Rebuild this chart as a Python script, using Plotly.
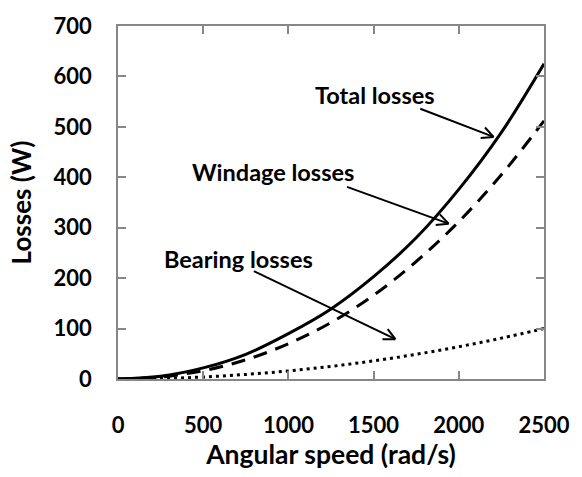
import numpy as np
import plotly.graph_objects as go

# ---- data ----
speed = [0, 250, 500, 750, 1000, 1250, 1500, 1750, 2000, 2250, 2500]
total_losses = [0, 5.4, 22, 49, 90, 139, 203, 280, 376, 489, 625]
windage_losses = [0, 4.0, 16.5, 38, 70, 112, 166, 233, 312, 405, 512]
bearing_losses = [0, 1, 4, 9, 16, 25, 36, 49, 64, 81, 100]
x_ticks = [0, 500, 1000, 1500, 2000, 2500]
y_ticks = [0, 100, 200, 300, 400, 500, 600, 700]

# label text, label centre, arrow tail, arrow head (data units)
labels = ["Total losses", "Windage losses", "Bearing losses"]
label_pos = [(1507, 563), (912, 410), (709, 238)]
arrow_tail = [(1774, 536), (1344, 381), (797, 214)]
arrow_head = [(2204, 480), (1940, 308), (1628, 79)]

# ---- layout constants ----
W, H = 582, 477
M = dict(l=118, r=36, t=18, b=93)
X_RANGE = [0, 2500]
Y_RANGE = [0, 700]
FONT = "Lato"

fig = go.Figure()
fig.add_trace(go.Scatter(x=speed, y=total_losses, mode="lines", name="Total losses",
                         line=dict(color="black", width=3, shape="spline")))
fig.add_trace(go.Scatter(x=speed, y=windage_losses, mode="lines", name="Windage losses",
                         line=dict(color="black", width=3, dash="14px,9px", shape="spline")))
fig.add_trace(go.Scatter(x=speed, y=bearing_losses, mode="lines", name="Bearing losses",
                         line=dict(color="black", width=3, dash="3px,4px", shape="spline")))

# pixel scale for arrowheads
plot_w = W - M["l"] - M["r"]
plot_h = H - M["t"] - M["b"]
sx = (X_RANGE[1] - X_RANGE[0]) / plot_w
sy = (Y_RANGE[1] - Y_RANGE[0]) / plot_h

shapes = []
for (tx, ty), (hx, hy) in zip(arrow_tail, arrow_head):
    shapes.append(dict(type="line", xref="x", yref="y", x0=tx, y0=ty, x1=hx, y1=hy,
                       line=dict(color="black", width=2)))
    # direction in pixel space (y downward)
    dx = (hx - tx) / sx
    dy = -(hy - ty) / sy
    ang = np.arctan2(dy, dx)
    L = 13
    for s in (+1, -1):
        a = ang + np.pi + s * np.radians(27)
        px = L * np.cos(a)
        py = L * np.sin(a)
        shapes.append(dict(type="line", xref="x", yref="y", x0=hx, y0=hy,
                           x1=hx + px * sx, y1=hy - py * sy,
                           line=dict(color="black", width=2)))

annotations = []
for txt, (lx, ly) in zip(labels, label_pos):
    annotations.append(dict(x=lx, y=ly, xref="x", yref="y", text=txt, showarrow=False,
                            xanchor="center", yanchor="middle",
                            font=dict(family=FONT, size=23.5, color="black", weight="bold")))

axis_common = dict(showgrid=False, zeroline=False, showline=True, linecolor="#878787",
                   linewidth=1.5, mirror="ticks", ticks="inside", tickcolor="#878787",
                   tickwidth=1.5, ticklen=8,
                   tickfont=dict(family=FONT, size=22, color="black", weight="bold"))

fig.update_layout(
    width=W, height=H, margin=M,
    paper_bgcolor="white", plot_bgcolor="white",
    showlegend=False,
    shapes=shapes, annotations=annotations,
    xaxis=dict(range=X_RANGE, tickvals=x_ticks, ticklabelstandoff=26,
               title=dict(text="Angular speed (rad/s)", standoff=8,
                          font=dict(family=FONT, size=26.5, color="black", weight="bold")),
               **axis_common),
    yaxis=dict(range=Y_RANGE, tickvals=y_ticks, ticklabelstandoff=20,
               title=dict(text="Losses (W)", standoff=14,
                          font=dict(family=FONT, size=26, color="black", weight="bold")),
               **axis_common),
)

fig.write_html("out.html")
